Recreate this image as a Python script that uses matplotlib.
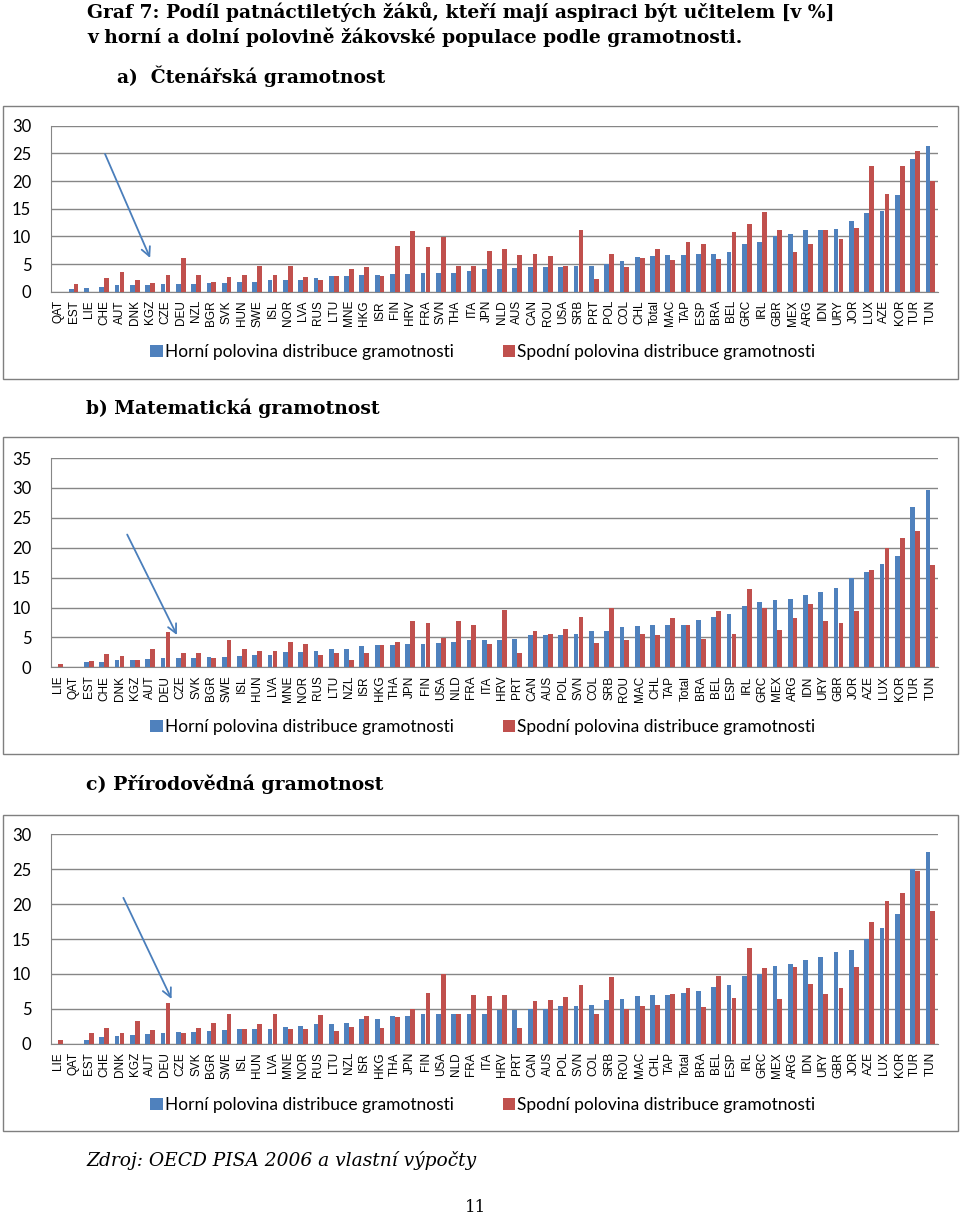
import matplotlib
matplotlib.use("Agg")
import matplotlib.pyplot as plt
from matplotlib.patches import Rectangle

# Data (values in %)
labels_a = ["QAT", "EST", "LIE", "CHE", "AUT", "DNK", "KGZ", "CZE", "DEU", "NZL",
            "BGR", "SVK", "HUN", "SWE", "ISL", "NOR", "LVA", "RUS", "LTU", "MNE",
            "HKG", "ISR", "FIN", "HRV", "FRA", "SVN", "THA", "ITA", "JPN", "NLD",
            "AUS", "CAN", "ROU", "USA", "SRB", "PRT", "POL", "COL", "CHL", "Total",
            "MAC", "TAP", "ESP", "BRA", "BEL", "GRC", "IRL", "GBR", "MEX", "ARG",
            "IDN", "URY", "JOR", "LUX", "AZE", "KOR", "TUR", "TUN"]
horni_a = [0, 0.5, 0.65, 0.85, 1.15, 1.15, 1.15, 1.45, 1.45, 1.45,
           1.6, 1.6, 1.75, 1.75, 2.05, 2.05, 2.15, 2.5, 2.75, 2.75,
           2.95, 3.1, 3.25, 3.25, 3.4, 3.4, 3.4, 3.8, 4.1, 4.1,
           4.3, 4.4, 4.4, 4.4, 4.7, 4.7, 5.0, 5.6, 6.25, 6.5,
           6.7, 6.7, 6.8, 6.8, 7.1, 8.6, 8.9, 10.0, 10.5, 11.1,
           11.1, 11.3, 12.8, 14.3, 14.6, 17.4, 24.0, 26.4]
spodni_a = [0, 1.45, 0, 2.5, 3.55, 2.2, 1.6, 2.95, 6.0, 3.1,
            1.75, 2.65, 2.95, 4.6, 3.1, 4.6, 2.65, 2.2, 2.75, 4.1,
            4.45, 2.75, 8.3, 11.0, 8.0, 9.8, 4.6, 4.7, 7.4, 7.7,
            6.7, 6.8, 6.5, 4.6, 11.1, 2.3, 6.9, 4.4, 6.1, 7.7,
            5.7, 8.9, 8.7, 5.9, 10.85, 12.2, 14.4, 11.1, 7.1, 8.6,
            11.1, 9.5, 11.6, 22.8, 17.6, 22.8, 25.5, 20.0]

labels_bc = ["LIE", "QAT", "EST", "CHE", "DNK", "KGZ", "AUT", "DEU", "CZE", "SVK",
             "BGR", "SWE", "ISL", "HUN", "LVA", "MNE", "NOR", "RUS", "LTU", "NZL",
             "ISR", "HKG", "THA", "JPN", "FIN", "USA", "NLD", "FRA", "ITA", "HRV",
             "PRT", "CAN", "AUS", "POL", "SVN", "COL", "SRB", "ROU", "MAC", "CHL",
             "TAP", "Total", "BRA", "BEL", "ESP", "IRL", "GRC", "MEX", "ARG", "IDN",
             "URY", "GBR", "JOR", "AZE", "LUX", "KOR", "TUR", "TUN"]
horni_b = [0, 0, 0.9, 0.9, 1.3, 1.3, 1.45, 1.55, 1.55, 1.55,
           1.7, 1.7, 1.9, 2.0, 2.0, 2.55, 2.55, 2.7, 3.1, 3.1,
           3.5, 3.7, 3.7, 3.85, 3.95, 4.05, 4.25, 4.5, 4.5, 4.5,
           4.75, 5.35, 5.35, 5.45, 5.6, 6.0, 6.0, 6.75, 6.85, 7.0,
           7.1, 7.1, 7.95, 8.4, 8.95, 10.2, 11.0, 11.25, 11.4, 12.1,
           12.65, 13.2, 15.0, 16.0, 17.2, 18.6, 26.75, 29.6]
spodni_b = [0.6, 0, 1.05, 2.3, 1.95, 1.3, 3.1, 5.85, 2.4, 2.4,
            1.55, 4.5, 3.1, 2.7, 2.7, 4.25, 3.95, 2.0, 2.4, 1.3,
            2.4, 3.7, 4.25, 7.7, 7.4, 4.95, 7.7, 7.0, 3.95, 9.6,
            2.4, 6.0, 5.6, 6.4, 8.4, 4.05, 9.9, 4.5, 5.6, 5.35,
            8.25, 7.1, 4.75, 9.35, 5.6, 13.1, 9.9, 6.2, 8.25, 10.6,
            7.8, 7.4, 9.35, 16.3, 20.0, 21.7, 22.8, 17.1]
horni_c = [0, 0, 0.5, 1.0, 1.1, 1.25, 1.35, 1.55, 1.7, 1.7,
           1.8, 1.95, 2.05, 2.15, 2.15, 2.45, 2.55, 2.8, 2.8, 3.0,
           3.5, 3.5, 3.95, 3.95, 4.2, 4.2, 4.2, 4.3, 4.3, 4.8,
           4.8, 4.95, 4.95, 5.35, 5.35, 5.6, 6.2, 6.35, 6.8, 7.0,
           7.0, 7.25, 7.5, 8.1, 8.35, 9.65, 9.95, 11.2, 11.4, 12.05,
           12.4, 13.15, 13.45, 14.95, 16.6, 18.6, 25.05, 27.4]
spodni_c = [0.6, 0, 1.5, 2.3, 1.5, 3.25, 1.9, 5.85, 1.6, 2.3,
            3.0, 4.2, 2.15, 2.85, 4.2, 2.05, 2.15, 4.05, 1.8, 2.4,
            3.95, 2.3, 3.8, 4.95, 7.25, 9.95, 4.2, 7.0, 6.9, 7.0,
            2.3, 6.05, 6.2, 6.7, 8.45, 4.3, 9.5, 4.95, 5.35, 5.5,
            7.15, 8.05, 5.25, 9.65, 6.6, 13.65, 10.8, 6.45, 10.95, 8.6,
            7.15, 8.0, 10.95, 17.4, 20.45, 21.65, 24.7, 19.0]

legend_labels = ["Horní polovina distribuce gramotnosti",
                 "Spodní polovina distribuce gramotnosti"]
blue = "#4F81BD"
red = "#C0504D"
grid = "#868686"

W, H = 960, 1218
fig = plt.figure(figsize=(W / 100, H / 100), dpi=100)


def rect(x0, y0, x1, y1):
    return [x0 / W, 1 - y1 / H, (x1 - x0) / W, (y1 - y0) / H]


def panel(box, plot, labels, horni, spodni, ymax, arrow, leg_y):
    # outer frame of the Excel chart
    fig.patches.append(Rectangle((box[0] / W, 1 - box[3] / H), (box[2] - box[0]) / W,
                                 (box[3] - box[1]) / H, transform=fig.transFigure,
                                 fill=False, edgecolor="#7F7F7F", lw=1))
    ax = fig.add_axes(rect(*plot))
    x = range(len(labels))
    b1 = ax.bar([i - 0.16 for i in x], horni, width=0.31, color=blue, zorder=3)
    b2 = ax.bar([i + 0.16 for i in x], spodni, width=0.31, color=red, zorder=3)
    ax.set_xlim(-0.5, len(labels) - 0.5)
    ax.set_ylim(0, ymax)
    ax.set_yticks(range(0, ymax + 1, 5))
    ax.yaxis.grid(True, color=grid, lw=1, zorder=0)
    for s in ["top", "right"]:
        ax.spines[s].set_visible(False)
    for s in ["left", "bottom"]:
        ax.spines[s].set_color(grid)
    ax.set_xticks(list(x))
    ax.set_xticklabels(labels, rotation=90, fontsize=8.5, family="Liberation Sans")
    ax.tick_params(axis="x", length=0, pad=6)
    ax.tick_params(axis="y", length=0, pad=14, labelsize=12)
    for t in ax.get_yticklabels():
        t.set_family("Lato")
    ax.annotate("", xy=arrow[1], xytext=arrow[0],
                arrowprops=dict(arrowstyle="->", color="#4A7EBB", lw=1.3,
                                mutation_scale=16, shrinkA=0, shrinkB=0))
    ax.legend([b1, b2], legend_labels, loc="center", ncol=2, frameon=False,
              bbox_to_anchor=(483 / W, 1 - leg_y / H), bbox_transform=fig.transFigure,
              handlelength=0.7, handleheight=0.7, handletextpad=0.15,
              columnspacing=2.8, prop={"family": "Lato", "size": 12.5})
    return ax


serif = "DejaVu Serif"
fig.text(87 / W, 1 - 12 / H, "Graf 7: Podíl patnáctiletých žáků, kteří mají aspiraci být učitelem [v %]",
         family=serif, weight="bold", fontsize=13.5, va="center")
fig.text(87 / W, 1 - 37 / H, "v horní a dolní polovině žákovské populace podle gramotnosti.",
         family=serif, weight="bold", fontsize=13.5, va="center")
fig.text(117 / W, 1 - 76 / H, "a)  Čtenářská gramotnost",
         family=serif, weight="bold", fontsize=13.5, va="center")
fig.text(86 / W, 1 - 408 / H, "b) Matematická gramotnost",
         family=serif, weight="bold", fontsize=13.5, va="center")
fig.text(86 / W, 1 - 784 / H, "c) Přírodovědná gramotnost",
         family=serif, weight="bold", fontsize=13.6, va="center")

panel((3, 106, 958, 379), (50.7, 125.7, 938, 291.7), labels_a, horni_a, spodni_a, 30,
      ((3.05, 24.9), (6.0, 6.1)), 352)
panel((3, 437, 958, 754), (50.7, 458, 938, 667.3), labels_bc, horni_b, spodni_b, 35,
      ((4.5, 22.2), (7.75, 5.4)), 727)
panel((3, 815, 958, 1131), (50.7, 834.3, 938, 1043.7), labels_bc, horni_c, spodni_c, 30,
      ((4.25, 20.9), (7.4, 6.4)), 1105)

fig.text(86 / W, 1 - 1160 / H, "Zdroj: OECD PISA 2006 a vlastní výpočty",
         family=serif, style="italic", fontsize=13.4, va="center")
fig.text(476 / W, 1 - 1208 / H, "11", family=serif, fontsize=12, va="center", ha="center")

fig.savefig("out.png", dpi=100)
